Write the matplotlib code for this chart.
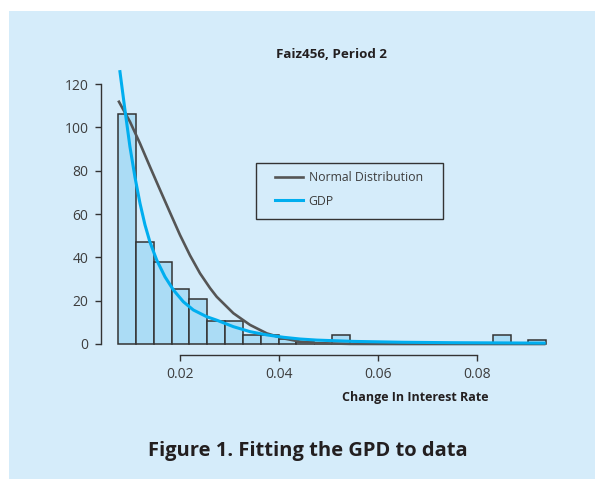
import numpy as np
import matplotlib.pyplot as plt
from matplotlib.patches import Rectangle
from matplotlib.lines import Line2D

plt.rcParams['font.family'] = ['Open Sans', 'DejaVu Sans']

# histogram counts, 24 bins starting at bin_start
counts = [106, 47, 38, 25.5, 21, 10.8, 10.8, 4, 4, 2.5, 1, 0,
          4, 0, 0, 0, 0, 0, 0, 0, 0, 4, 0, 2]
bin_start = 0.0075
bin_width = 0.0036

# fitted curves
normal_x = [0.00768, 0.0099, 0.01192, 0.01394, 0.01596, 0.01798, 0.02, 0.02202,
            0.02404, 0.02606, 0.02741, 0.03077, 0.03414, 0.03752, 0.04087,
            0.04424, 0.04762, 0.05434, 0.065, 0.08, 0.0935]
normal_y = [111.8, 102.6, 92.6, 81.8, 71.2, 60.7, 50.3, 40.9,
            32.6, 25.8, 21.8, 14.2, 8.8, 4.9, 2.6,
            1.1, 0.4, 0.05, 0.0, 0.0, 0.0]

gpd_x = [0.00788, 0.00889, 0.0099, 0.01091, 0.01192, 0.01293, 0.01394, 0.01529,
         0.01697, 0.01865, 0.02067, 0.02269, 0.02539, 0.02741, 0.03077, 0.03414,
         0.03752, 0.04087, 0.04424, 0.04762, 0.055, 0.065, 0.075, 0.085, 0.0935]
gpd_y = [125.7, 108, 91, 77, 65, 55, 47, 38.8,
         31, 25, 19.5, 15.7, 12.6, 11, 8, 5.7,
         4.2, 3.1, 2.3, 1.8, 1.2, 0.8, 0.6, 0.5, 0.4]

xticks = [0.02, 0.04, 0.06, 0.08]
yticks = [0, 20, 40, 60, 80, 100, 120]

bg = '#d5ecfa'
bar_fill = '#abdcf5'
dark = '#333333'
txt = '#231f20'

fig = plt.figure(figsize=(5.95, 4.79), dpi=100)
fig.patch.set_facecolor('white')
fig.patches.append(Rectangle((9 / 595, 0), 586 / 595, 468 / 479, transform=fig.transFigure,
                             facecolor=bg, edgecolor='none', zorder=-10))

ax = fig.add_axes([101 / 595, 1 - 355 / 479, 449 / 595, 290 / 479])
ax.set_facecolor('none')

lefts = bin_start + bin_width * np.arange(len(counts))
ax.bar(lefts, counts, width=bin_width, align='edge', color=bar_fill,
       edgecolor=dark, linewidth=1.1, zorder=2)
ax.plot(normal_x, normal_y, color='#555555', lw=1.9, zorder=3, clip_on=False,
        solid_joinstyle='round')
ax.plot(gpd_x, gpd_y, color='#00aeef', lw=2.2, zorder=4, clip_on=False,
        solid_joinstyle='round')

ax.set_xlim(0.004056, 0.09467)
ax.set_ylim(-5.077, 128.77)
ax.set_xticks(xticks)
ax.set_xticklabels(['0.02', '0.04', '0.06', '0.08'])
ax.set_yticks(yticks)

for s in ['top', 'right']:
    ax.spines[s].set_visible(False)
ax.spines['left'].set_bounds(0, 120)
ax.spines['bottom'].set_bounds(0.02, 0.08)
for s in ['left', 'bottom']:
    ax.spines[s].set_color(dark)
    ax.spines[s].set_linewidth(1.0)
ax.tick_params(direction='out', length=4, width=1.0, color=dark,
               labelsize=10, labelcolor='#3d3d3d', pad=5)

# legend, frame drawn separately
handles = [Line2D([], [], color='#555555', lw=1.9),
           Line2D([], [], color='#00aeef', lw=2.2)]
fig.legend(handles, ['Normal Distribution', 'GDP'], loc='center left',
           bbox_to_anchor=(275 / 595, 1 - 189.2 / 479), frameon=False,
           borderpad=0, borderaxespad=0, handlelength=2.3, handletextpad=0.45,
           labelspacing=0.88, prop={'size': 8.8}, labelcolor='#3d3d3d')
fig.patches.append(Rectangle((256 / 595, 1 - 219.3 / 479), 187.3 / 595, 56 / 479,
                             transform=fig.transFigure, facecolor='none',
                             edgecolor=dark, linewidth=1.0))

fig.text(331 / 595, 1 - 54 / 479, 'Faiz456, Period 2', fontsize=9.6, fontweight='bold',
         ha='center', va='center', color=txt)
fig.text(415 / 595, 1 - 398 / 479, 'Change In Interest Rate', fontsize=9, fontweight='bold',
         ha='center', va='center', color=txt)
fig.text(307.5 / 595, 1 - 451 / 479, 'Figure 1. Fitting the GPD to data', fontsize=14.5,
         fontweight='bold', ha='center', va='center', color=txt)

fig.savefig('out.png', dpi=100)
